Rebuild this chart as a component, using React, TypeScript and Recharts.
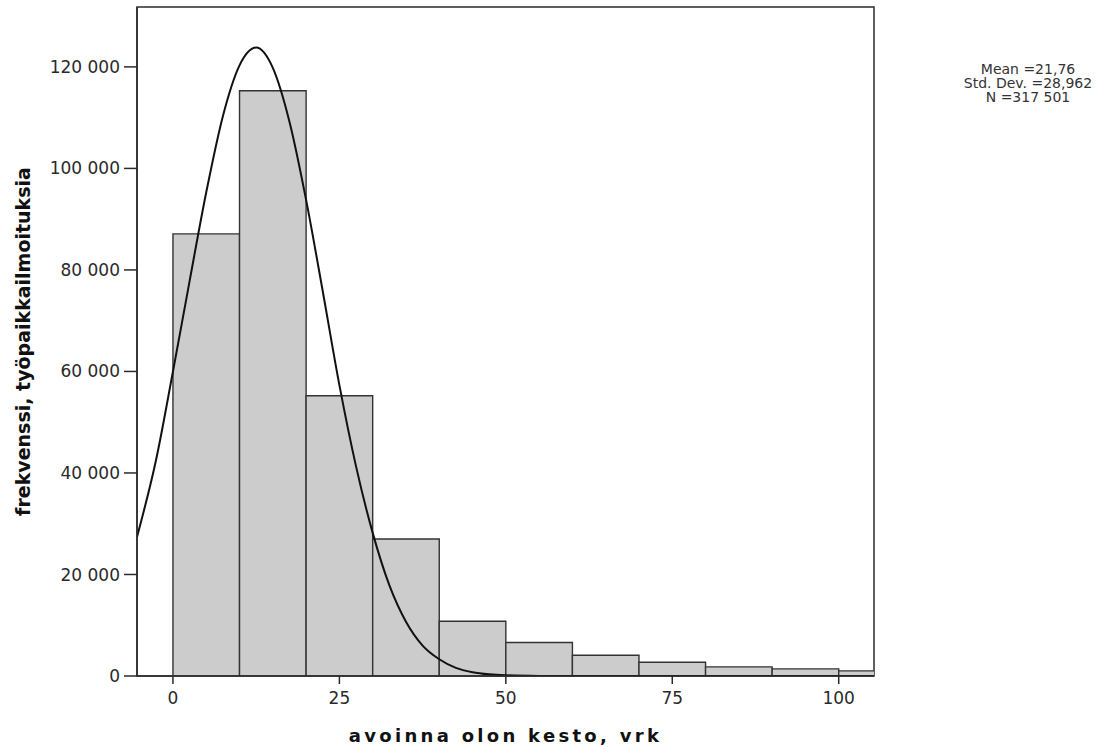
import { ComposedChart, Line, XAxis, YAxis, ReferenceArea } from "recharts"

// histogram bins (days) and counts
const binStarts = [0, 10, 20, 30, 40, 50, 60, 70, 80, 90, 100]
const binWidth = 10
const counts = [87100, 115300, 55200, 27000, 10800, 6600, 4100, 2700, 1800, 1400, 1000]

// fitted normal curve
const curveX = [-5.4, -2.5, 0, 2.5, 5, 7.5, 10, 12.5, 15, 17.5, 20, 22.5, 25, 27.5, 30, 32.5, 35, 37.5, 40, 42.5, 45, 47.5, 50, 55, 60, 80, 105.3]
const curveY = [27400, 42800, 60000, 77800, 95300, 110300, 120300, 123800, 119800, 109200, 93800, 75800, 57300, 41300, 28200, 17900, 10700, 6000, 3300, 1600, 750, 330, 140, 20, 0, 0, 0]

const xTicks = [0, 25, 50, 75, 100]
const yTicks = [0, 20000, 40000, 60000, 80000, 100000, 120000]
const statLines = ["Mean =21,76", "Std. Dev. =28,962", "N =317 501"]

const xDomain = [-5.4, 105.3]
const yDomain = [0, 131800]

const curveData = curveX.map((x, i) => ({ x, y: curveY[i] }))

const axisColor = "#2b2b2b"
const textColor = "#2a2a2a"

function formatY(v: number) {
  if (v === 0) return "0"
  return `${v / 1000} 000`
}

function YTitle(props: any) {
  const vb = props.viewBox || {}
  const cx = vb.x + 23
  const cy = vb.y + vb.height / 2
  return (
    <text
      x={cx}
      y={cy}
      transform={`rotate(-90, ${cx}, ${cy})`}
      textAnchor="middle"
      dominantBaseline="central"
      fontWeight="bold"
      fontSize={19}
      fill="#111"
    >
      frekvenssi, työpaikkailmoituksia
    </text>
  )
}

function XTitle(props: any) {
  const vb = props.viewBox || {}
  return (
    <text
      x={vb.x + vb.width / 2}
      y={742}
      textAnchor="middle"
      fontWeight="bold"
      fontSize={18}
      letterSpacing={3.3}
      fill="#111"
    >
      avoinna olon kesto, vrk
    </text>
  )
}

export default function App() {
  return (
    <div
      style={{
        position: "absolute",
        left: 0,
        top: 0,
        width: 1102,
        height: 749,
        fontFamily: "'DejaVu Sans', sans-serif",
        background: "#fff",
      }}
    >
      <ComposedChart
        width={1102}
        height={749}
        margin={{ top: 7, right: 228, bottom: 0, left: 0 }}
      >
        <XAxis
          type="number"
          dataKey="x"
          domain={xDomain}
          ticks={xTicks}
          allowDataOverflow
          height={73}
          tickSize={8}
          tickMargin={8}
          stroke={axisColor}
          strokeWidth={1.5}
          tick={{ fill: textColor, fontSize: 17 }}
          label={<XTitle />}
        />
        <YAxis
          type="number"
          domain={yDomain}
          ticks={yTicks}
          allowDataOverflow
          width={137}
          tickSize={13}
          tickMargin={4}
          tickFormatter={formatY}
          stroke={axisColor}
          strokeWidth={1.5}
          tick={{ fill: textColor, fontSize: 17 }}
          label={<YTitle />}
        />

        {/* plot frame */}
        <ReferenceArea
          x1={xDomain[0]}
          x2={xDomain[1]}
          y1={yDomain[0]}
          y2={yDomain[1]}
          fill="none"
          stroke={axisColor}
          strokeWidth={1.5}
        />

        {binStarts.map((start, i) => (
          <ReferenceArea
            key={start}
            x1={start}
            x2={start + binWidth}
            y1={0}
            y2={counts[i]}
            fill="#cccccc"
            fillOpacity={1}
            stroke="#333"
            strokeWidth={1.4}
            ifOverflow="hidden"
          />
        ))}

        <Line
          data={curveData}
          dataKey="y"
          type="monotone"
          stroke="#111"
          strokeWidth={2}
          dot={false}
          activeDot={false}
          isAnimationActive={false}
        />
      </ComposedChart>

      <div
        style={{
          position: "absolute",
          left: 938,
          top: 62,
          width: 180,
          textAlign: "center",
          fontSize: 14,
          lineHeight: "14px",
          color: "#333",
        }}
      >
        {statLines.map((s) => (
          <div key={s}>{s}</div>
        ))}
      </div>
    </div>
  )
}
